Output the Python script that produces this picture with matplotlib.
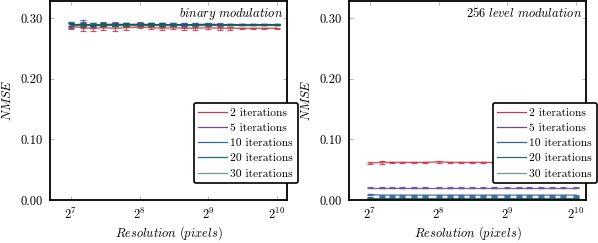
import matplotlib
matplotlib.use("Agg")
import matplotlib.pyplot as plt
import numpy as np
from matplotlib.ticker import FixedLocator, FormatStrFormatter, NullLocator

plt.rcParams['font.family'] = ['cmr10', 'DejaVu Serif']
plt.rcParams['mathtext.fontset'] = 'cm'
plt.rcParams['axes.formatter.use_mathtext'] = True

resolution = [128, 144, 160, 176, 200, 224, 256, 288, 320, 360, 400, 448, 512, 576, 640, 720, 800, 896, 1024]
labels = ["2 iterations", "5 iterations", "10 iterations", "20 iterations", "30 iterations"]
colors = ["#c8384a", "#6d4e8c", "#3a64a0", "#1e6e80", "#0f5a48"]
legend_colors = ["#c8384a", "#6d4e8c", "#3a64a0", "#1e6e80", "#6b9a8a"]

binary_vals = {
    "2 iterations":  [0.286, 0.284, 0.283, 0.284, 0.283, 0.284, 0.285, 0.284, 0.283, 0.284, 0.283, 0.283, 0.284, 0.283, 0.283, 0.283, 0.283, 0.283, 0.283],
    "5 iterations":  [0.288, 0.290, 0.288, 0.289, 0.290, 0.289, 0.290, 0.289, 0.289, 0.289, 0.289, 0.289, 0.290, 0.289, 0.289, 0.289, 0.289, 0.289, 0.289],
    "10 iterations": [0.289, 0.289, 0.288, 0.289, 0.289, 0.289, 0.289, 0.289, 0.289, 0.289, 0.289, 0.289, 0.289, 0.289, 0.289, 0.289, 0.289, 0.289, 0.289],
    "20 iterations": [0.289, 0.289, 0.289, 0.289, 0.289, 0.289, 0.289, 0.289, 0.289, 0.289, 0.289, 0.289, 0.289, 0.289, 0.289, 0.289, 0.289, 0.289, 0.289],
    "30 iterations": [0.289, 0.289, 0.288, 0.289, 0.289, 0.289, 0.289, 0.289, 0.289, 0.289, 0.289, 0.289, 0.289, 0.289, 0.289, 0.289, 0.289, 0.289, 0.289],
}
binary_err = {
    "2 iterations":  [0.004, 0.005, 0.004, 0.004, 0.004, 0.003, 0.002, 0.002, 0.002, 0.002, 0.002, 0.002, 0.002, 0.002, 0.002, 0.001, 0.001, 0.001, 0.001],
    "5 iterations":  [0.005, 0.006, 0.004, 0.004, 0.004, 0.003, 0.004, 0.003, 0.002, 0.002, 0.002, 0.002, 0.002, 0.002, 0.001, 0.001, 0.001, 0.001, 0.001],
    "10 iterations": [0.004, 0.004, 0.003, 0.003, 0.003, 0.003, 0.003, 0.002, 0.002, 0.002, 0.002, 0.002, 0.002, 0.001, 0.001, 0.001, 0.001, 0.001, 0.001],
    "20 iterations": [0.003, 0.003, 0.003, 0.003, 0.003, 0.002, 0.002, 0.002, 0.002, 0.002, 0.001, 0.001, 0.001, 0.001, 0.001, 0.001, 0.001, 0.001, 0.001],
    "30 iterations": [0.003, 0.003, 0.002, 0.002, 0.002, 0.002, 0.002, 0.002, 0.002, 0.001, 0.001, 0.001, 0.001, 0.001, 0.001, 0.001, 0.001, 0.001, 0.001],
}
level_vals = {
    "2 iterations":  [0.061, 0.062, 0.062, 0.062, 0.062, 0.062, 0.063, 0.062, 0.062, 0.062, 0.062, 0.062, 0.062, 0.062, 0.062, 0.062, 0.062, 0.062, 0.062],
    "5 iterations":  [0.020, 0.020, 0.020, 0.020, 0.020, 0.020, 0.020, 0.020, 0.020, 0.020, 0.020, 0.020, 0.020, 0.020, 0.020, 0.020, 0.020, 0.020, 0.020],
    "10 iterations": [0.009, 0.008, 0.008, 0.008, 0.008, 0.008, 0.008, 0.008, 0.008, 0.008, 0.008, 0.008, 0.008, 0.008, 0.008, 0.008, 0.008, 0.008, 0.008],
    "20 iterations": [0.004, 0.004, 0.004, 0.004, 0.004, 0.004, 0.004, 0.004, 0.004, 0.004, 0.004, 0.004, 0.004, 0.004, 0.004, 0.004, 0.004, 0.004, 0.004],
    "30 iterations": [0.002, 0.002, 0.002, 0.002, 0.002, 0.002, 0.002, 0.002, 0.002, 0.002, 0.002, 0.002, 0.002, 0.002, 0.002, 0.002, 0.002, 0.002, 0.002],
}
level_err = {
    "2 iterations":  [0.002, 0.002, 0.001, 0.001, 0.001, 0.001, 0.002, 0.001, 0.001, 0.001, 0.001, 0.001, 0.001, 0.001, 0.001, 0.001, 0.001, 0.001, 0.001],
    "5 iterations":  [0.001] * 19,
    "10 iterations": [0.001] * 19,
    "20 iterations": [0.0005] * 19,
    "30 iterations": [0.0005] * 19,
}
panel_titles = ["binary modulation", "256 level modulation"]
yticks = [0.0, 0.1, 0.2, 0.3]
xticks = [128, 256, 512, 1024]

fig = plt.figure(figsize=(5.98, 2.43), dpi=100)
ax1 = fig.add_axes([50 / 598, 43 / 243, 237 / 598, 199 / 243])
ax2 = fig.add_axes([349 / 598, 43 / 243, 237 / 598, 199 / 243])

for ax, vals, errs, title in [(ax1, binary_vals, binary_err, panel_titles[0]),
                              (ax2, level_vals, level_err, panel_titles[1])]:
    for lab, c in zip(labels, colors):
        ax.errorbar(resolution, vals[lab], yerr=errs[lab], color=c, lw=1.0,
                    elinewidth=0.9, capsize=2, capthick=0.9, alpha=0.85)
    ax.set_xscale('log', base=2)
    ax.set_xlim(2 ** 6.694, 2 ** 10.146)
    ax.set_ylim(0, 0.328)
    ax.xaxis.set_major_locator(FixedLocator(xticks))
    ax.xaxis.set_minor_locator(NullLocator())
    ax.yaxis.set_major_locator(FixedLocator(yticks))
    ax.yaxis.set_major_formatter(FormatStrFormatter('%.2f'))
    ax.tick_params(direction='in', length=3, width=0.6, color='#aaaaaa',
                   top=True, right=True, labelsize=9, pad=5, labelcolor='black')
    for s in ax.spines.values():
        s.set_linewidth(1.3)
    ax.set_xlabel(r'$Resolution\ (pixels)$', fontsize=9)
    ax.xaxis.set_label_coords(0.5, -0.12)
    ax.set_ylabel(r'$NMSE$', fontsize=9)
    ax.yaxis.set_label_coords(-0.15, 0.5)
    ax.text(0.985, 0.975, r'$\mathit{' + title.replace(' ', r'\ ') + '}$',
            transform=ax.transAxes, ha='right', va='top', fontsize=9)
    handles = [plt.Line2D([], [], color=c, lw=0.9) for c in legend_colors]
    ax.legend(handles, labels, loc='lower right', fontsize=8.3,
              bbox_to_anchor=(1.07, 0.055), frameon=True, fancybox=True,
              edgecolor='black', framealpha=1, handlelength=2.5,
              handletextpad=0.3, labelspacing=0.45, borderpad=0.4)
    ax.get_legend().get_frame().set_linewidth(1.2)

fig.savefig('out.png', dpi=100)
